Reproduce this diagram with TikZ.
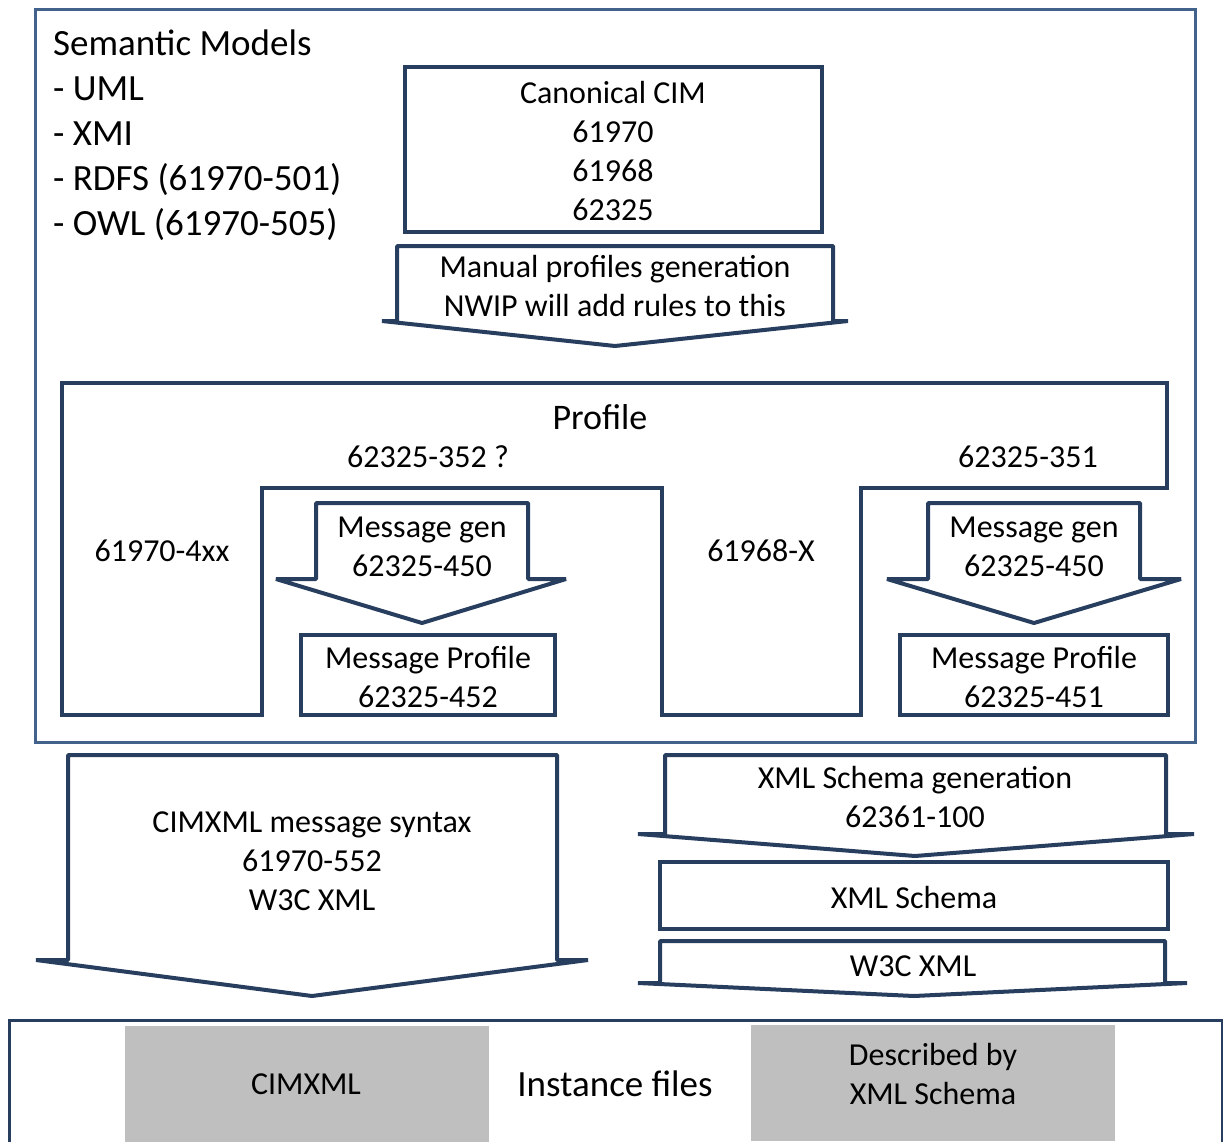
\documentclass[tikz,border=0pt]{standalone}
\usepackage{fontspec}
\setmainfont{Carlito}
\definecolor{navy}{RGB}{40,62,94}
\definecolor{frameblue}{RGB}{66,98,140}
\definecolor{filegray}{RGB}{191,191,191}
\begin{document}
\begin{tikzpicture}[x=1pt, y=-1pt,
		txt/.style={inner sep=0pt, align=center, font=\fontsize{32}{39}\selectfont},
		big/.style={inner sep=0pt, font=\fontsize{37}{45}\selectfont},
		box/.style={draw=navy, line width=4pt, fill=white},
		blockarrow/.style={draw=navy, line width=4pt, fill=white, line join=bevel},
		frame/.style={draw=frameblue, line width=3pt}]
	\useasboundingbox (0,0) rectangle (1223,1142);
	\draw[frame] (35,10) rectangle (1195,742);
	\node[big, align=left, anchor=west] (semantic) at (53,135) {Semantic Models\\- UML\\- XMI\\- RDFS (61970-501)\\- OWL (61970-505)};
	\draw[box] (405,67) rectangle (822,232);
	\node[txt] (cim) at (613,151) {Canonical CIM\\61970\\61968\\62325};
	\draw[blockarrow] (397,246)--(833,246)--(833,321)--(848,321)--(615,346)--(382,321)--(397,321)--cycle;
	\node[txt] (manual) at (615,286) {Manual profiles generation\\NWIP will add rules to this};
	\draw[box] (62,383)--(1167,383)--(1167,488)--(861,488)--(861,715)--(662,715)--(662,488)--(262,488)--(262,715)--(62,715)--cycle;
	\node[inner sep=0pt, font=\fontsize{36}{44}\selectfont] (profile) at (600,417) {Profile};
	\node[txt] (p352) at (428,457) {62325-352 ?};
	\node[txt] (p351) at (1028,457) {62325-351};
	\node[txt] (p4xx) at (162,551) {61970-4xx};
	\node[txt] (px) at (761,551) {61968-X};
	\draw[blockarrow] (316,503)--(528,503)--(528,579)--(566,579)--(422,623)--(276,579)--(316,579)--cycle;
	\node[txt] (genl) at (422,547) {Message gen\\62325-450};
	\draw[box] (301,635) rectangle (555,715);
	\node[txt] (msgl) at (428,677) {Message Profile\\62325-452};
	\draw[blockarrow] (928,503)--(1140,503)--(1140,579)--(1181,579)--(1034,623)--(887,579)--(928,579)--cycle;
	\node[txt] (genr) at (1034,547) {Message gen\\62325-450};
	\draw[box] (900,635) rectangle (1168,715);
	\node[txt] (msgr) at (1034,677) {Message Profile\\62325-451};
	\draw[blockarrow] (68,755)--(557,755)--(557,960)--(588,960)--(312,996)--(36,960)--(68,960)--cycle;
	\node[txt] (syntax) at (312,861) {CIMXML message syntax\\61970-552\\W3C XML};
	\draw[blockarrow] (665,755)--(1166,755)--(1166,834)--(1194,834)--(915,856)--(638,834)--(665,834)--cycle;
	\node[txt] (xsdgen) at (915,797) {XML Schema generation\\62361-100};
	\draw[box] (660,862) rectangle (1168,929);
	\node[txt] (xsd) at (914,897) {XML Schema};
	\draw[blockarrow] (660,941)--(1165,941)--(1165,983)--(1187,983)--(914,996)--(638,983)--(660,983)--cycle;
	\node[txt] (w3c) at (913,966) {W3C XML};
	\draw[draw=navy, line width=3pt] (9,1160)--(9,1020)--(1222,1020)--(1222,1160);
	\fill[filegray] (125,1026) rectangle (489,1142);
	\fill[filegray] (751,1025) rectangle (1115,1141);
	\node[txt] (cimxml) at (306,1084) {CIMXML};
	\node[big] (instance) at (615,1084) {Instance files};
	\node[txt] (described) at (933,1074) {Described by\\XML Schema};
\end{tikzpicture}
\end{document}
